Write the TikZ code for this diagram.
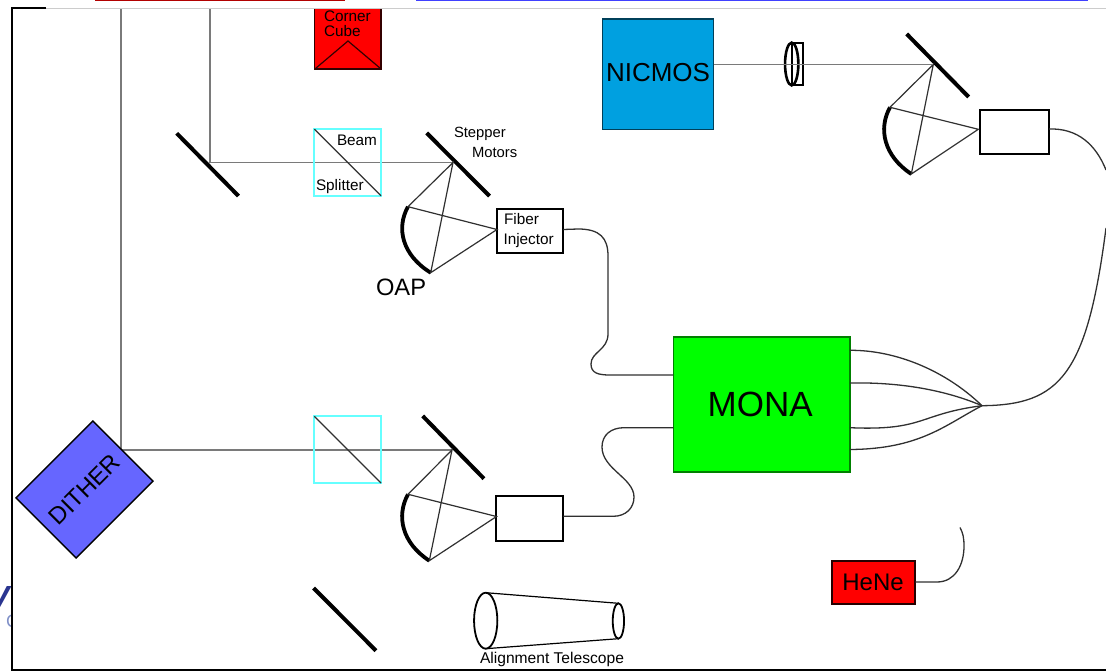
\documentclass[tikz,border=0pt]{standalone}
\usepackage{fontspec}
\setmainfont{Liberation Sans}
\usetikzlibrary{shapes.geometric}
\definecolor{beamgray}{HTML}{7A7A7A}
\definecolor{thin}{HTML}{303030}
\definecolor{nicblue}{HTML}{00A0E0}
\definecolor{ditherblue}{HTML}{6666FF}
\definecolor{bscyan}{HTML}{66FFFF}
\definecolor{wmnavy}{HTML}{2A3590}
\definecolor{wmlight}{HTML}{8090C8}
\tikzset{
  box/.style={rectangle,draw=black,line width=2pt,fill=white,inner sep=0,outer sep=0},
  colbox/.style={rectangle,draw=#1,line width=1.4pt,inner sep=0,outer sep=0},
  bscube/.style={rectangle,draw=bscyan,line width=1.8pt,inner sep=0,outer sep=0,minimum width=66.7pt,minimum height=66.7pt},
  lbl/.style={inner sep=0,outer sep=0,anchor=base west,font=\fontsize{15.3}{16}\selectfont,text=black},
  beam/.style={draw=beamgray,line width=1.9pt},
  ray/.style={draw=thin,line width=1.2pt},
  fiber/.style={draw=thin,line width=1.3pt},
  mirror/.style={draw=black,line width=4pt},
  oap/.style={draw=black,line width=3.8pt},
  tube/.style={ellipse,draw=black,line width=1.8pt,inner sep=0,outer sep=0,fill=white}
}
\begin{document}
\begin{tikzpicture}[x=1pt,y=-1pt]
\useasboundingbox (0,0) rectangle (1106,671);
% page remnants
\fill[fill=red!70!black] (95,0) rectangle (345,1.2);
\fill[fill=blue!75] (416,0) rectangle (1088,1.2);
\begin{scope}
\clip (0,570) rectangle (11,640);
\node[inner sep=0,anchor=base west,font=\fontsize{32}{32}\selectfont\bfseries\itshape,text=wmnavy] (wm) at (-12,608) {V};
\node[inner sep=0,anchor=base west,font=\fontsize{18}{18}\selectfont,text=wmlight] (wc) at (6,627) {C};
\end{scope}
\draw[black!20,line width=1pt] (46,9) -- (1106,9);
\draw[black,line width=1.3pt] (46,8) -- (12,8) -- (12,670) -- (1106,670);

% Coordinates
\coordinate (topA) at (121,9.5);
\coordinate (topB) at (210,9.5);
\coordinate (elbowB) at (210,162.5);
\coordinate (m1a) at (176.7,133.3); \coordinate (m1b) at (238.5,196);
\coordinate (m2a) at (426.7,133); \coordinate (m2b) at (489.5,196);
\coordinate (m2p) at (453,162.5);
\coordinate (m3a) at (422.7,416); \coordinate (m3b) at (484,478.7);
\coordinate (m3p) at (452,450);
\coordinate (m4a) at (313.5,588); \coordinate (m4b) at (376,650.7);
\coordinate (m5a) at (906.7,34); \coordinate (m5b) at (968.7,97);
\coordinate (m5p) at (933.3,64.5);
\coordinate (ditherpt) at (121,450);

% Beams under the coloured boxes
\draw[beam] (topA) -- (ditherpt) -- (m3p);
\draw[beam] (topB) -- (elbowB) -- (m2p);

% Beam splitters
\node[bscube] (bs1) at (347.7,162.5) {};
\node[bscube] (bs2) at (347.7,449.7) {};
\draw[ray] (bs1.north west) -- (bs1.south east);
\draw[ray] (bs2.north west) -- (bs2.south east);

% Corner cube
\fill[red] (314.5,9.5) rectangle (381,69);
\draw[draw=black!80!red,line width=1.6pt] (314.5,9.5) -- (314.5,69) -- (381,69) -- (381,9.5);
\coordinate (ccl) at (315.5,68.5); \coordinate (cct) at (348,41); \coordinate (ccr) at (380.5,68.5);
\draw[ray,draw=black!80!red] (ccl) -- (cct) -- (ccr);
\node[lbl] (corner) at (324,22) {Corner};
\node[lbl] (cube) at (324,37) {Cube};

% Mirrors
\draw[mirror] (m1a) -- (m1b);
\draw[mirror] (m2a) -- (m2b);
\draw[mirror] (m3a) -- (m3b);
\draw[mirror] (m4a) -- (m4b);
\draw[mirror] (m5a) -- (m5b);

% Boxes
\node[colbox=black!60!nicblue,fill=nicblue,minimum width=111pt,minimum height=110.5pt] (nicmos) at (658,74.2) {\fontsize{26}{26}\selectfont\raisebox{3pt}{NICMOS}};
\node[colbox=black!50!green,fill=green,minimum width=176.5pt,minimum height=135pt] (mona) at (761.7,404.5) {\hspace{-3pt}\fontsize{35}{35}\selectfont MONA};
\node[box,draw=black!85!red,fill=red,minimum width=83.5pt,minimum height=43.3pt] (hene) at (873.5,582.3) {\hspace{-1pt}\fontsize{24}{24}\selectfont HeNe};
\node[box,minimum width=66.7pt,minimum height=44.3pt] (inj) at (530,231) {};
\node[box,minimum width=67pt,minimum height=44.7pt] (box2) at (529.8,518.3) {};
\node[box,minimum width=69pt,minimum height=44.7pt] (box3) at (1014.5,132) {};
\node[rectangle,draw=black,line width=1.4pt,fill=ditherblue,inner sep=0,outer sep=0,rotate=45,minimum width=108.7pt,minimum height=85pt,font=\fontsize{24}{24}\selectfont,text=black] (dither) at (84.5,489.5) {DITHER};

% OAP group 1
\coordinate (o1t) at (408,206.7); \coordinate (o1b) at (430.7,272.7); \coordinate (f1) at (497,229.5);
\draw[oap] (o1t) .. controls (396,228) and (402,255) .. (o1b);
\draw[ray] (m2p) -- (o1t) -- (f1) -- (o1b) -- cycle;
% OAP group 2
\coordinate (o2t) at (408,494.3); \coordinate (o2b) at (429.3,560.7); \coordinate (f2) at (496.5,516.5);
\draw[oap] (o2t) .. controls (396,516) and (402,543) .. (o2b);
\draw[ray] (m3p) -- (o2t) -- (f2) -- (o2b) -- cycle;
% OAP group 3
\coordinate (o3t) at (890,107.3); \coordinate (o3b) at (911.3,174); \coordinate (f3) at (978.3,129.3);
\draw[oap] (o3t) .. controls (878,129) and (884,156) .. (o3b);
\draw[ray] (m5p) -- (o3t) -- (f3) -- (o3b) -- cycle;

% Lens
\node[rectangle,draw=black,line width=2.2pt,inner sep=0,outer sep=0,minimum width=11.6pt,minimum height=42.3pt] (lensr) at (797.5,63.9) {};
\node[tube,fill=none,line width=2.6pt,minimum width=13.3pt,minimum height=42.7pt] (lensc) at (791.7,64) {};
\draw[beam,line width=1.6pt] (nicmos.east |- m5p) -- (m5p);

% Fibers
\coordinate (inja) at (inj.east |- f1);
\coordinate (monal1) at (mona.west |- 0,375);
\draw[fiber] (inja) -- (578,229) .. controls (600,229) and (608,238) .. (608,256) -- (608,334)
  .. controls (608,350) and (591,352) .. (591,364) .. controls (591,373) and (598,375) .. (610,375) -- (monal1);
\coordinate (box2r) at (box2.east |- 0,516.3);
\coordinate (monal2) at (mona.west |- 0,427.7);
\draw[fiber] (box2r) -- (613,516.3) .. controls (626,516.3) and (634,508) .. (634,497)
  .. controls (634,478) and (602,469) .. (602,447) .. controls (602,435) and (611,427.7) .. (624,427.7) -- (monal2);
\coordinate (J) at (982,405.7);
\coordinate (mr1) at (mona.east |- 0,350.3);
\coordinate (mr2) at (mona.east |- 0,383);
\coordinate (mr3) at (mona.east |- 0,427.7);
\coordinate (mr4) at (mona.east |- 0,449.5);
\draw[fiber] (mr1) .. controls (895,350) and (945,370) .. (J);
\draw[fiber] (mr2) .. controls (900,382) and (945,390) .. (J);
\draw[fiber] (mr3) .. controls (925,431) and (918,414) .. (J);
\draw[fiber] (mr4) .. controls (920,449) and (945,425) .. (J);
\coordinate (edgeA) at (1106,228);
\coordinate (edgeB) at (1106,170);
\draw[fiber] (J) .. controls (1060,405) and (1087,375) .. (edgeA);
\draw[fiber] (box3.east |- 0,129) .. controls (1078,128) and (1096,145) .. (edgeB);
\coordinate (heneEnd) at (960,527.5);
\draw[fiber] (hene.east |- 0,582) -- (937,582) .. controls (955,582) and (964,565) .. (964,546) .. controls (964,538) and (963,533) .. (heneEnd);

% Telescope
\node[tube,minimum width=23.3pt,minimum height=56pt] (tbig) at (485.7,620.7) {};
\node[tube,minimum width=11.3pt,minimum height=35.4pt] (tsmall) at (618.4,621) {};
\draw[ray,draw=black] (tbig.north) -- (tsmall.north);
\draw[ray,draw=black] (tbig.south) -- (tsmall.south);

% Labels
\node[lbl] (beamlbl) at (337,146) {Beam};
\node[lbl] (splitter) at (316,191) {Splitter};
\node[lbl,font=\fontsize{14.8}{15}\selectfont] (stepper) at (454,138) {Stepper};
\node[lbl,font=\fontsize{14.8}{15}\selectfont] (motors) at (472,158) {Motors};
\node[lbl] (fiberl) at (504,224.5) {Fiber};
\node[lbl] (injector) at (503.5,244) {Injector};
\node[lbl,font=\fontsize{23.7}{24}\selectfont] (oapl) at (376,295) {OAP};
\node[lbl,font=\fontsize{15.6}{16}\selectfont] (align) at (480,663) {Alignment Telescope};
\end{tikzpicture}
\end{document}
